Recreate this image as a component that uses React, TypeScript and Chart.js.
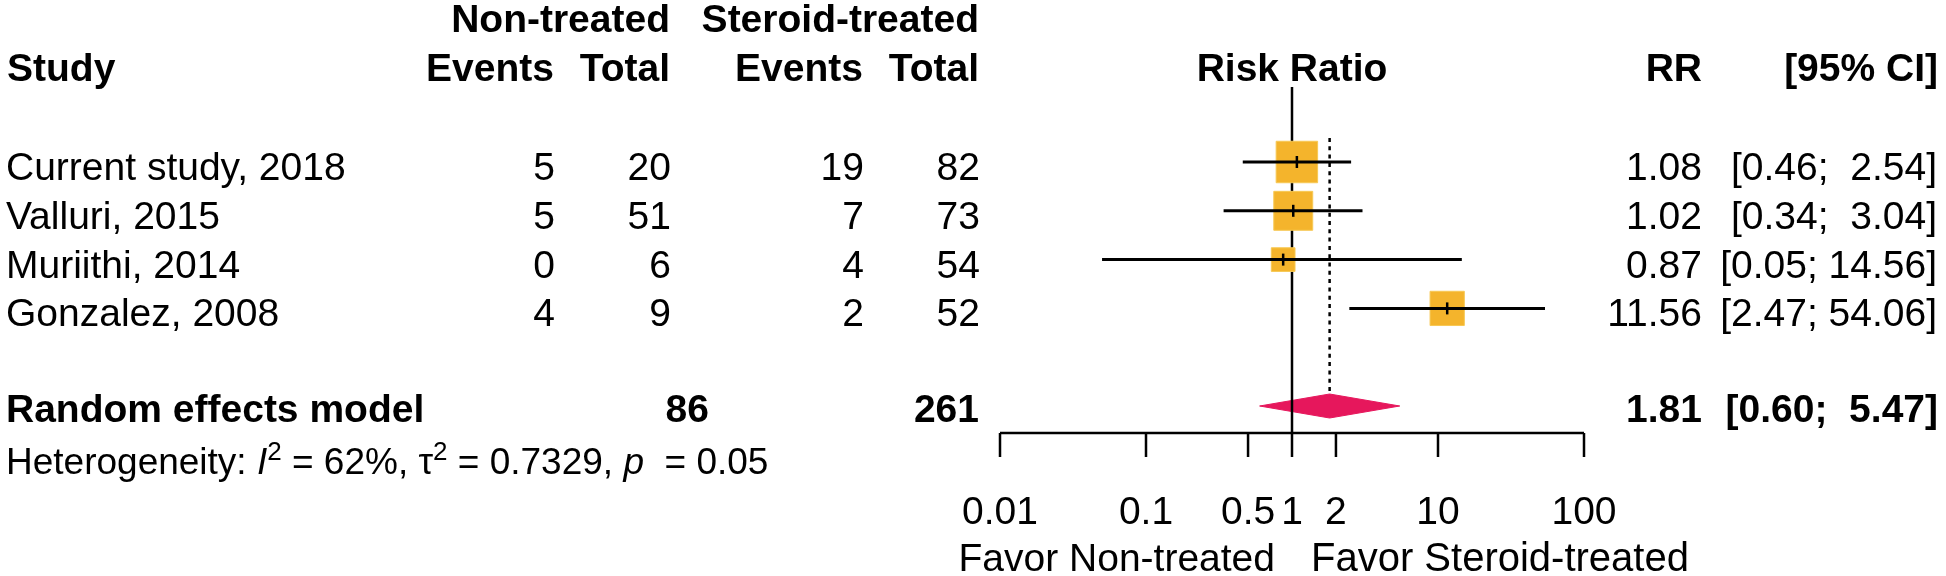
import { useEffect, useRef } from 'react';
import { Chart, registerables } from 'chart.js';

Chart.register(...registerables);

// ---------- data ----------
const studies = ['Current study, 2018', 'Valluri, 2015', 'Muriithi, 2014', 'Gonzalez, 2008'];
const eventsNonTreated = [5, 5, 0, 4];
const totalNonTreated = [20, 51, 6, 9];
const eventsSteroid = [19, 7, 4, 2];
const totalSteroid = [82, 73, 54, 52];
const riskRatio = [1.08, 1.02, 0.87, 11.56];
const ciLower = [0.46, 0.34, 0.05, 2.47];
const ciUpper = [2.54, 3.04, 14.56, 54.06];
const weightsRandom = [34.6, 30.5, 11.3, 23.6]; // estimated random-effects weights (%)

const summaryLabel = 'Random effects model';
const summaryTotalNonTreated = 86;
const summaryTotalSteroid = 261;
const summaryRR = 1.81;
const summaryLower = 0.6;
const summaryUpper = 5.47;

const hetI2 = '62%';
const hetTau2 = '0.7329';
const hetP = '0.05';

const axisTicks = [0.01, 0.1, 0.5, 1, 2, 10, 100];
const axisTickLabels = ['0.01', '0.1', '0.5', '1', '2', '10', '100'];
const labelLeft = 'Favor Non-treated';
const labelRight = 'Favor Steroid-treated';

// ---------- style / layout ----------
const W = 1946;
const H = 576;
const FONT = '"Liberation Sans", Arial, Helvetica, sans-serif';
const FS = 39;
const ROW_PX = 48.8;
const ROW0_PX = 15.6;
const Y_MIN = -ROW0_PX / ROW_PX;
const Y_MAX = (H - ROW0_PX) / ROW_PX;
const FIRST_STUDY_ROW = 3;
const SUMMARY_ROW = 8;
const SQUARE_COLOR = '#F4B42C';
const DIAMOND_COLOR = '#E6175C';
const DIAMOND_HALF = 12 / ROW_PX;
const AXIS_Y = 433;

const fmt = (v: number) => v.toFixed(2);
const ciStr = (lo: number, hi: number) => `[${fmt(lo)}; ${fmt(hi).padStart(5, ' ')}]`;

function drawText(
  ctx: CanvasRenderingContext2D,
  s: string,
  x: number,
  y: number,
  align: CanvasTextAlign,
  weight = 'normal',
  style = 'normal',
  size = FS
) {
  ctx.font = `${style} ${weight} ${size}px ${FONT}`;
  ctx.textAlign = align;
  ctx.textBaseline = 'alphabetic';
  ctx.fillStyle = '#000';
  ctx.fillText(s, x, y);
}

const forestPlugin = {
  id: 'forestText',
  beforeDatasetDraw(chart: any, args: any) {
    const ds = chart.data.datasets[args.index];
    if (ds.label !== 'squares') return;
    const ctx = chart.ctx as CanvasRenderingContext2D;
    const xs = chart.scales.x;
    const ys = chart.scales.y;
    ctx.save();
    ctx.strokeStyle = '#000';
    ctx.lineWidth = 2.5;
    ctx.beginPath();
    const x1 = xs.getPixelForValue(1);
    ctx.moveTo(x1, 87);
    ctx.lineTo(x1, AXIS_Y);
    ctx.stroke();
    ctx.setLineDash([4, 4.3]);
    ctx.lineWidth = 2.5;
    ctx.beginPath();
    const xs1 = xs.getPixelForValue(summaryRR);
    ctx.moveTo(xs1, 138);
    ctx.lineTo(xs1, ys.getPixelForValue(SUMMARY_ROW - DIAMOND_HALF));
    ctx.stroke();
    ctx.restore();
  },
  afterDraw(chart: any) {
    const ctx = chart.ctx as CanvasRenderingContext2D;
    const xs = chart.scales.x;
    const ys = chart.scales.y;
    ctx.save();

    drawText(ctx, 'Non-treated', 670, 32, 'right', 'bold');
    drawText(ctx, 'Steroid-treated', 979, 32, 'right', 'bold');
    drawText(ctx, 'Study', 7, 81, 'left', 'bold');
    drawText(ctx, 'Events', 554, 81, 'right', 'bold');
    drawText(ctx, 'Total', 670, 81, 'right', 'bold');
    drawText(ctx, 'Events', 863, 81, 'right', 'bold');
    drawText(ctx, 'Total', 979, 81, 'right', 'bold');
    drawText(ctx, 'Risk Ratio', xs.getPixelForValue(1), 81, 'center', 'bold');
    drawText(ctx, 'RR', 1702, 81, 'right', 'bold');
    drawText(ctx, '[95% CI]', 1938, 81, 'right', 'bold');

    studies.forEach((name, i) => {
      const y = ys.getPixelForValue(FIRST_STUDY_ROW + i) + 18;
      drawText(ctx, name, 6, y, 'left');
      drawText(ctx, String(eventsNonTreated[i]), 555, y, 'right');
      drawText(ctx, String(totalNonTreated[i]), 671, y, 'right');
      drawText(ctx, String(eventsSteroid[i]), 864, y, 'right');
      drawText(ctx, String(totalSteroid[i]), 980, y, 'right');
      drawText(ctx, fmt(riskRatio[i]), 1702, y, 'right');
      drawText(ctx, ciStr(ciLower[i], ciUpper[i]), 1937, y, 'right');
    });

    const ySum = ys.getPixelForValue(SUMMARY_ROW) + 16;
    drawText(ctx, summaryLabel, 6, ySum, 'left', 'bold');
    drawText(ctx, String(summaryTotalNonTreated), 709, ySum, 'right', 'bold');
    drawText(ctx, String(summaryTotalSteroid), 979, ySum, 'right', 'bold');
    drawText(ctx, fmt(summaryRR), 1702, ySum, 'right', 'bold');
    drawText(ctx, ciStr(summaryLower, summaryUpper), 1938, ySum, 'right', 'bold');

    const hs = 37;
    const sup = 26;
    const yh = 474;
    const parts: [string, string][] = [
      ['Heterogeneity: ', 'n'],
      ['I', 'i'],
      ['2', 's'],
      [` = ${hetI2}, `, 'n'],
      ['\u03C4', 'n'],
      ['2', 's'],
      [` = ${hetTau2}, `, 'n'],
      ['p', 'i'],
      [`  = ${hetP}`, 'n'],
    ];
    let cx = 6;
    parts.forEach(([s, kind]) => {
      const size = kind === 's' ? sup : hs;
      const style = kind === 'i' ? 'italic' : 'normal';
      ctx.font = `${style} normal ${size}px ${FONT}`;
      const w = ctx.measureText(s).width;
      drawText(ctx, s, cx, kind === 's' ? yh - 14 : yh, 'left', 'normal', style, size);
      cx += w;
    });

    const x0 = xs.getPixelForValue(axisTicks[0]);
    const xN = xs.getPixelForValue(axisTicks[axisTicks.length - 1]);
    ctx.strokeStyle = '#000';
    ctx.lineWidth = 2.5;
    ctx.beginPath();
    ctx.moveTo(x0, AXIS_Y);
    ctx.lineTo(xN, AXIS_Y);
    axisTicks.forEach((t) => {
      const px = xs.getPixelForValue(t);
      ctx.moveTo(px, AXIS_Y);
      ctx.lineTo(px, AXIS_Y + 24);
    });
    ctx.stroke();
    axisTicks.forEach((t, i) => {
      drawText(ctx, axisTickLabels[i], xs.getPixelForValue(t), 524, 'center');
    });
    const xOne = xs.getPixelForValue(1);
    drawText(ctx, labelLeft, xOne - 17, 571, 'right');
    drawText(ctx, labelRight, xOne + 19, 571, 'left', 'normal', 'normal', 40);

    ctx.restore();
  },
};

export default function App() {
  const ref = useRef<HTMLCanvasElement | null>(null);

  useEffect(() => {
    document.body.style.margin = '0';
    const canvas = ref.current;
    if (!canvas) return;

    const rows = studies.map((_, i) => FIRST_STUDY_ROW + i);

    const ciDatasets = studies.map((s, i) => ({
      type: 'line' as const,
      label: `ci-${s}`,
      data: [
        { x: ciLower[i], y: rows[i] },
        { x: ciUpper[i], y: rows[i] },
      ],
      borderColor: '#000',
      borderWidth: 3,
      pointRadius: 0,
      fill: false,
      order: 1,
    }));

    const chart = new Chart(canvas, {
      type: 'scatter',
      data: {
        datasets: [
          {
            type: 'scatter',
            label: 'estimate',
            data: riskRatio.map((v, i) => ({ x: v, y: rows[i] })),
            pointStyle: 'line',
            rotation: 90,
            pointRadius: 6,
            borderColor: '#000',
            borderWidth: 2.5,
            order: 0,
          } as any,
          ...ciDatasets,
          {
            type: 'scatter',
            label: 'squares',
            data: riskRatio.map((v, i) => ({ x: v, y: rows[i] })),
            pointStyle: 'rect',
            pointRadius: weightsRandom.map((w) => (7.05 * Math.sqrt(w)) / Math.SQRT2),
            backgroundColor: SQUARE_COLOR,
            borderColor: '#F7C955',
            borderWidth: 1,
            order: 2,
          } as any,
          {
            type: 'line',
            label: 'diamond',
            data: [
              { x: summaryLower, y: SUMMARY_ROW },
              { x: summaryRR, y: SUMMARY_ROW - DIAMOND_HALF },
              { x: summaryUpper, y: SUMMARY_ROW },
              { x: summaryRR, y: SUMMARY_ROW + DIAMOND_HALF },
              { x: summaryLower, y: SUMMARY_ROW },
            ],
            borderColor: DIAMOND_COLOR,
            backgroundColor: DIAMOND_COLOR,
            borderWidth: 1,
            pointRadius: 0,
            fill: 'shape',
            tension: 0,
            order: 4,
          } as any,
        ],
      },
      options: {
        responsive: false,
        animation: false,
        devicePixelRatio: 1,
        layout: { autoPadding: false, padding: { left: 1000, right: 362, top: 0, bottom: 0 } },
        scales: {
          x: {
            type: 'logarithmic',
            min: 0.01,
            max: 100,
            display: false,
            afterBuildTicks: (s: any) => { s.min = 0.01; s.max = 100; },
          },
          y: {
            type: 'linear',
            min: Y_MIN,
            max: Y_MAX,
            bounds: 'data',
            reverse: true,
            display: false,
            afterBuildTicks: (s: any) => { s.min = Y_MIN; s.max = Y_MAX; },
          },
        },
        plugins: {
          legend: { display: false },
          tooltip: { enabled: false },
        },
      },
      plugins: [forestPlugin],
    });

    return () => chart.destroy();
  }, []);

  return <canvas ref={ref} width={W} height={H} style={{ display: 'block', width: W, height: H }} />;
}
